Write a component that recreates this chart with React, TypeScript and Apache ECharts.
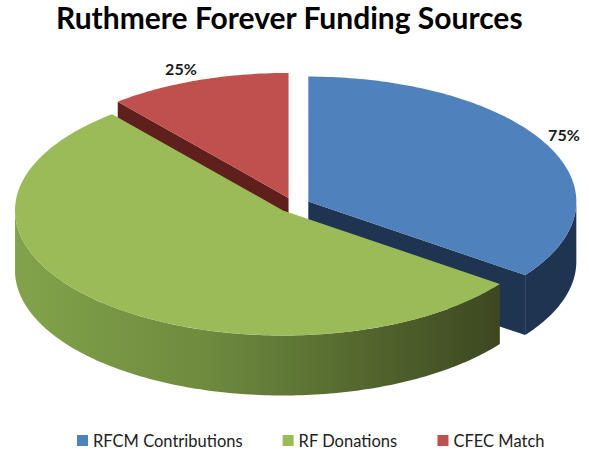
import React, { useEffect, useRef } from 'react';
import * as echarts from 'echarts';

const titleText = 'Ruthmere Forever Funding Sources';
const categories = ['RFCM Contributions', 'RF Donations', 'CFEC Match'];
const values = [35, 54, 11];
const labelTexts = ['75%', '', '25%'];

const topColors = ['#4F81BD', '#9BBB59', '#C0504D'];
const sideColors: any[] = [
  '#1F3450',
  new echarts.graphic.LinearGradient(0, 0, 1, 0, [
    { offset: 0, color: '#82A34B' },
    { offset: 0.4, color: '#6E8A3E' },
    { offset: 0.7, color: '#55692F' },
    { offset: 1, color: '#3C4720' },
  ]),
  '#5E1F1D',
];
const seriesZ = [2, 3, 1];

const CX = 294;
const CY = 205;
const RX = 268;
const RY = 125;
const DEPTH = 60;
const EXPLODE = 0.06;

const total = values.reduce((s, v) => s + v, 0);
const cumulative: number[][] = [];
{
  let acc = 0;
  values.forEach((v) => {
    cumulative.push([acc, acc + v]);
    acc += v;
  });
}

function makeRender(idx: number) {
  return (params: any, api: any) => {
    const a = api.value(0);
    const b = api.value(1);
    const ta = ((90 - (360 * a) / total) * Math.PI) / 180;
    const tb = ((90 - (360 * b) / total) * Math.PI) / 180;
    const tm = (ta + tb) / 2;
    const cx = CX + EXPLODE * RX * Math.cos(tm);
    const cy = CY - EXPLODE * RY * Math.sin(tm);
    const pt = (t: number, d: number) => [cx + RX * Math.cos(t), cy - RY * Math.sin(t) + d];
    const arc = (t1: number, t2: number, d: number) => {
      const n = Math.max(2, Math.ceil(Math.abs(t1 - t2) / (Math.PI / 180)));
      const pts: number[][] = [];
      for (let i = 0; i <= n; i++) pts.push(pt(t1 + ((t2 - t1) * i) / n, d));
      return pts;
    };
    const children: any[] = [];
    for (let k = -2; k <= 1; k++) {
      const lo = Math.max(tb, -Math.PI + 2 * Math.PI * k);
      const hi = Math.min(ta, 2 * Math.PI * k);
      if (hi > lo) {
        children.push({
          type: 'polygon',
          shape: { points: arc(lo, hi, 0).concat(arc(hi, lo, DEPTH)) },
          style: { fill: sideColors[idx] },
        });
      }
    }
    const radial = (t: number) => ({
      type: 'polygon',
      shape: { points: [[cx, cy], pt(t, 0), pt(t, DEPTH), [cx, cy + DEPTH]] },
      style: { fill: sideColors[idx] },
    });
    if (Math.cos(ta) < -0.01) children.push(radial(ta));
    if (Math.cos(tb) > 0.01) children.push(radial(tb));
    children.push({
      type: 'polygon',
      shape: { points: [[cx, cy]].concat(arc(ta, tb, 0)) },
      style: { fill: topColors[idx] },
    });
    if (labelTexts[idx]) {
      const right = Math.cos(tm) >= 0;
      children.push({
        type: 'text',
        x: cx + RX * Math.cos(tm) + (right ? 1 : -1),
        y: cy - RY * Math.sin(tm) - (right ? 10 : 12),
        style: {
          text: labelTexts[idx],
          fill: '#1a1a1a',
          fontFamily: 'Lato',
          fontWeight: 'bold',
          fontSize: 16,
          align: right ? 'left' : 'right',
          verticalAlign: 'middle',
        },
      });
    }
    return { type: 'group', children };
  };
}

export default function App() {
  const ref = useRef<HTMLDivElement>(null);
  useEffect(() => {
    if (!ref.current) return;
    const chart = echarts.init(ref.current, undefined, { renderer: 'svg' });
    chart.setOption({
      animation: false,
      backgroundColor: '#ffffff',
      title: {
        text: titleText,
        left: 51,
        top: -3,
        textStyle: { fontFamily: 'Lato', fontWeight: 'bold', fontSize: 30, color: '#000000' },
      },
      legend: {
        data: categories,
        icon: 'rect',
        itemWidth: 11,
        itemHeight: 11,
        itemGap: 40,
        left: 72,
        top: 427,
        textStyle: { fontFamily: 'Lato', fontSize: 16.5, color: '#222222' },
      },
      series: categories.map((name, i) => ({
        type: 'custom',
        name,
        coordinateSystem: 'none',
        z: seriesZ[i],
        itemStyle: { color: topColors[i] },
        data: [cumulative[i]],
        renderItem: makeRender(i),
      })),
    });
    return () => chart.dispose();
  }, []);
  return (
    <div
      ref={ref}
      style={{ position: 'fixed', left: 0, top: 0, width: 589, height: 453, background: '#fff' }}
    />
  );
}
